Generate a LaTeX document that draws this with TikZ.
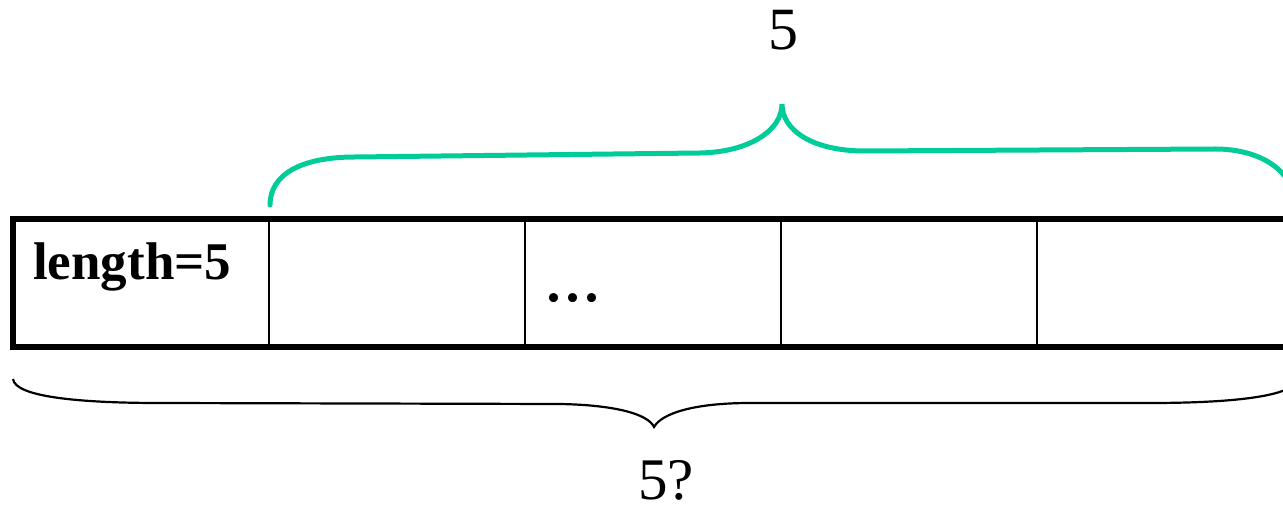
\documentclass[tikz,border=0pt]{standalone}
\usepackage{fontspec}
\setmainfont{Liberation Serif}
\definecolor{bracegreen}{RGB}{0,204,153}
\tikzset{
  outerline/.style={line width=5.5pt},
  divline/.style={line width=2.6pt},
  greenbrace/.style={draw=bracegreen,line width=5pt,line cap=round},
  blackbrace/.style={draw=black,line width=2.2pt},
  lbl/.style={inner sep=0pt,anchor=base west}
}
\begin{document}
\begin{tikzpicture}[x=1pt,y=-1pt]
\useasboundingbox (0,0) rectangle (1283,510);
% array box
\coordinate (tl) at (13,219);
\coordinate (tr) at (1293,219);
\coordinate (bl) at (13,347);
\coordinate (br) at (1293,347);
\draw[outerline] (tr) -- (tl) -- (bl) -- (br);
\foreach \x/\n in {269/d1,525/d2,781/d3,1037/d4}{
  \coordinate (\n t) at (\x,219);
  \coordinate (\n b) at (\x,347);
  \draw[divline] (\n t) -- (\n b);
}
% texts
\node[lbl] (len) at (33,280) {\fontsize{53}{60}\selectfont\bfseries length=5};
\node[lbl] (dots) at (544,302) {\fontsize{76}{80}\selectfont ...};
\node[lbl] (top5) at (768,50) {\fontsize{60}{68}\selectfont 5};
\node[lbl] (bot5) at (638,500) {\fontsize{59}{66}\selectfont 5?};
% green brace
\path[greenbrace] (270,205) .. controls (270,175) and (300,157) .. (355,157)
  -- (700,153) .. controls (750,152) and (782,130) .. (782,104)
  .. controls (782,130) and (812,151) .. (865,151)
  -- (1215,149) .. controls (1262,149) and (1294,172) .. (1294,203);
% black brace
\path[blackbrace] (13,379) .. controls (15,397) and (80,403) .. (160,403)
  -- (560,404) .. controls (615,405) and (648,414) .. (654,427)
  .. controls (662,413) and (695,403) .. (750,403)
  -- (1150,403) .. controls (1228,403) and (1295,397) .. (1297,379);
\end{tikzpicture}
\end{document}
